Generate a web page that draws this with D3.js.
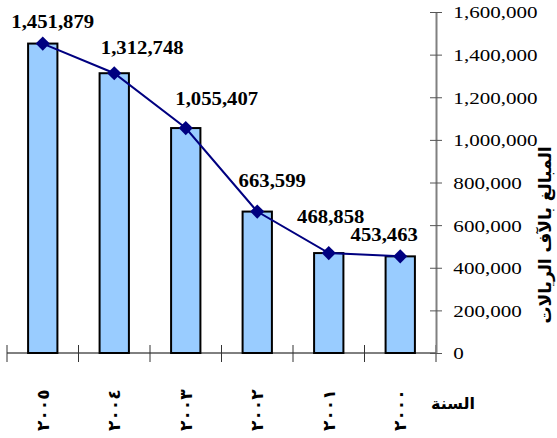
<!DOCTYPE html>
<html>
<head>
<meta charset="utf-8">
<script src="https://cdn.jsdelivr.net/npm/d3@7"></script>
<style>
  html, body { margin: 0; padding: 0; background: #fff; }
  svg { display: block; }
</style>
</head>
<body>
<svg id="chart" width="557" height="438"></svg>
<script>
// Yearly amounts (thousands of riyals), newest year first
const years = ["٢٠٠٥", "٢٠٠٤", "٢٠٠٣", "٢٠٠٢", "٢٠٠١", "٢٠٠٠"];
const amounts = [1451879, 1312748, 1055407, 663599, 468858, 453463];
const yTicks = [0, 200000, 400000, 600000, 800000, 1000000, 1200000, 1400000, 1600000];
const yTitle = "المبالغ بالآف الريالات";
const xTitle = "السنة";

// Label nudges relative to each marker: [dx, dy to baseline]
const labelNudge = [[10, -16], [28, -19], [31, -23], [15, -25], [2, -30], [-16, -15]];

const svg = d3.select("#chart");
const W = 557, H = 438;
const plot = { left: 7, right: 436, top: 12, bottom: 353 };

const x = d3.scaleBand().domain(years).range([plot.left, plot.right]);
const y = d3.scaleLinear().domain([0, 1600000]).range([plot.bottom, plot.top]);
const fmt = d3.format(",");

svg.append("rect").attr("width", W).attr("height", H).attr("fill", "#fff");

// Bars
const barW = x.bandwidth() * 0.41;
svg.append("g").selectAll("rect")
  .data(amounts)
  .join("rect")
  .attr("x", (d, i) => x(years[i]) + (x.bandwidth() - barW) / 2)
  .attr("y", d => y(d))
  .attr("width", barW)
  .attr("height", d => y(0) - y(d))
  .attr("fill", "#99CCFF")
  .attr("stroke", "#000")
  .attr("stroke-width", 2);

// Category axis along the bottom
const xAxis = svg.append("g");
xAxis.append("line")
  .attr("x1", plot.left).attr("x2", plot.right)
  .attr("y1", plot.bottom).attr("y2", plot.bottom)
  .attr("stroke", "#000").attr("stroke-width", 1);
const bounds = years.map(v => x(v)).concat([plot.right]);
xAxis.selectAll("line.tick")
  .data(bounds)
  .join("line")
  .attr("class", "tick")
  .attr("x1", d => d).attr("x2", d => d)
  .attr("y1", plot.bottom - 8).attr("y2", plot.bottom + 9)
  .attr("stroke", "#333").attr("stroke-width", 1);

// Year labels, written vertically
xAxis.selectAll("text")
  .data(years)
  .join("text")
  .attr("transform", d => `translate(${x(d) + x.bandwidth() / 2},${431}) rotate(-90)`)
  .attr("dy", "0.35em")
  .attr("text-anchor", "start")
  .attr("font-family", "'DejaVu Sans', sans-serif")
  .attr("font-size", 17)
  .attr("font-weight", "bold")
  .attr("letter-spacing", 2)
  .attr("fill", "#000")
  .text(d => d);

// Value axis on the right
const yAxis = svg.append("g")
  .attr("transform", `translate(${plot.right},0)`)
  .call(d3.axisRight(y).tickValues(yTicks).tickFormat(fmt).tickSizeInner(6).tickSizeOuter(0));
yAxis.select(".domain").attr("stroke", "#808080").attr("stroke-width", 2);
yAxis.selectAll(".tick line").attr("x1", -6).attr("x2", 6).attr("stroke", "#555");
yAxis.selectAll(".tick text")
  .attr("font-family", "'Liberation Serif', 'Times New Roman', serif")
  .attr("font-size", 17)
  .attr("fill", "#000")
  .attr("dy", "0.35em")
  .attr("transform", "scale(1.24,1)")
  .attr("x", 14);

// Line with diamond markers
const pts = amounts.map((d, i) => [x(years[i]) + x.bandwidth() / 2, y(d)]);
svg.append("path")
  .attr("d", d3.line()(pts))
  .attr("fill", "none")
  .attr("stroke", "#000080")
  .attr("stroke-width", 2);
svg.append("g").selectAll("path")
  .data(pts)
  .join("path")
  .attr("transform", p => `translate(${p[0]},${p[1]}) rotate(45)`)
  .attr("d", d3.symbol(d3.symbolSquare, 100)())
  .attr("fill", "#000080");

// Value labels
svg.append("g").selectAll("text")
  .data(amounts)
  .join("text")
  .attr("transform", (d, i) => `translate(${pts[i][0] + labelNudge[i][0]},${pts[i][1] + labelNudge[i][1]}) scale(1.12,1)`)
  .attr("text-anchor", "middle")
  .attr("font-family", "'Liberation Serif', 'Times New Roman', serif")
  .attr("font-weight", "bold")
  .attr("font-size", 18.5)
  .attr("fill", "#000")
  .text(d => fmt(d));

// Axis titles
svg.append("text")
  .attr("transform", `translate(551,235) rotate(-90)`)
  .attr("text-anchor", "middle")
  .attr("font-family", "'DejaVu Sans', sans-serif")
  .attr("font-weight", "bold")
  .attr("font-size", 17)
  .attr("fill", "#000")
  .text(yTitle);

svg.append("text")
  .attr("x", 453).attr("y", 409)
  .attr("text-anchor", "middle")
  .attr("font-family", "'DejaVu Sans', sans-serif")
  .attr("font-weight", "bold")
  .attr("font-size", 16)
  .attr("fill", "#000")
  .text(xTitle);
</script>
</body>
</html>
